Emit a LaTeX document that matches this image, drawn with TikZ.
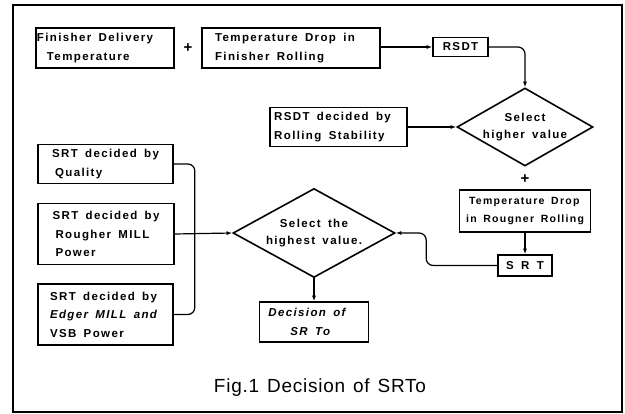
\documentclass[tikz,border=0pt]{standalone}
\usepackage{fontspec}
\setmainfont{Liberation Sans}
\newfontfamily\boxfont[LetterSpace=12,WordSpace=1.6]{Liberation Sans}
\newfontfamily\capfont[LetterSpace=4,WordSpace=1.3]{Liberation Sans}
\usetikzlibrary{shapes.geometric,arrows.meta}

\begin{document}
\begin{tikzpicture}[x=1pt,y=-1pt,
  box/.style={draw, rectangle, line width=1.6pt, inner sep=0pt, align=left,
    font=\boxfont\bfseries\fontsize{11.5}{18.5}\selectfont},
  decide/.style={draw, diamond, line width=1.6pt, inner sep=0pt},
  dtext/.style={align=center, inner sep=0pt,
    font=\boxfont\bfseries\fontsize{11.5}{16.5}\selectfont},
  plus/.style={inner sep=0pt, font=\bfseries\fontsize{15}{15}\selectfont},
  arr/.style={-{Latex[length=5.5pt,width=4pt]}, line width=1.2pt},
  link/.style={line width=1.2pt, rounded corners=7pt}]

\useasboundingbox (0,0) rectangle (625,414);
\draw[line width=1.4pt] (13,5) rectangle (622,412);

% upper chain: RSDT
\node[box, minimum width=138pt, minimum height=40pt] (fdt) at (105,48)
  {Finisher Delivery\hspace{20pt}\null\\\hspace{10pt}Temperature};
\node[plus] (p1) at (188,48) {+};
\node[box, minimum width=178pt, minimum height=40pt] (tdf) at (291,48)
  {Temperature Drop in\hspace{12pt}\null\\Finisher Rolling};
\node[box, minimum width=55pt, minimum height=19pt] (rsdt) at (460.5,47) {RSDT};
\node[box, minimum width=137pt, minimum height=39pt] (rstab) at (338.5,127)
  {RSDT decided by\hspace{12pt}\null\\Rolling Stability};
\node[decide, minimum width=136pt, minimum height=78pt,
  label={[dtext]center:Select\\higher value}] (sel1) at (525,127) {};
\node[plus] (p2) at (525,179) {+};
\node[box, minimum width=131pt, minimum height=42pt,
  font=\boxfont\bfseries\fontsize{10.5}{18}\selectfont] (tdr) at (525,211)
  {\hspace{3pt}Temperature Drop\\in Rougner Rolling};
\node[box, minimum width=54pt, minimum height=21pt] (srt) at (525,265.5) {S R T};

% left column: SRT candidates
\node[box, minimum width=135pt, minimum height=39pt] (qual) at (105.5,164)
  {SRT decided by\\\hspace{3pt}Quality};
\node[box, minimum width=136pt, minimum height=61pt] (rmill) at (106,234)
  {SRT decided by\\\hspace{3pt}Rougher MILL\\\hspace{3pt}Power};
\node[box, minimum width=135pt, minimum height=61pt] (emill) at (105.5,314.5)
  {SRT decided by\hspace{4pt}\null\\{\itshape Edger MILL and}\\VSB Power};
\node[decide, minimum width=162pt, minimum height=89pt,
  label={[dtext]center:Select the\\highest value.}] (sel2) at (314,233) {};
\node[box, minimum width=109pt, minimum height=40pt] (dec) at (314,322)
  {\itshape Decision of\hspace{14pt}\null\\\itshape\hspace{22pt}SR To};

\node[font=\capfont\fontsize{19}{19}\selectfont] (cap) at (320,388) {Fig.1 Decision of SRTo};

% connectors
\draw[arr] (tdf.east |- rsdt.west) -- (rsdt.west);
\draw[arr, rounded corners=7pt] (rsdt.east) -| (sel1.north);
\draw[arr] (rstab.east) -- (sel1.west);
\draw[arr] (tdr.south) -- (srt.north);
\draw[arr, rounded corners=7pt] (srt.west) -- ++(-71,0) |- (sel2.east);
\draw[link] (qual.east) -- ++(21,0) |- (emill.east);
\draw[arr] (rmill.east) -- (sel2.west);
\draw[arr] (sel2.south) -- (dec.north);
\end{tikzpicture}
\end{document}
